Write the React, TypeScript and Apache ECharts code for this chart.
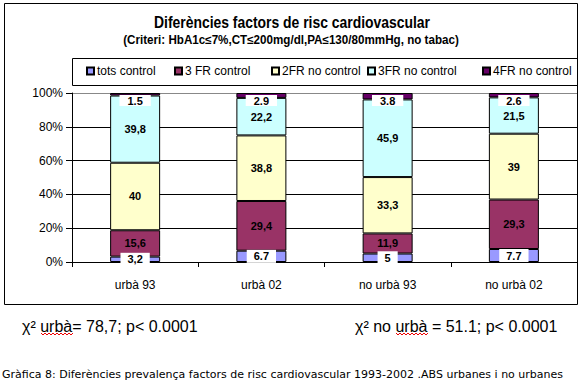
import React, { useEffect, useRef } from "react";
import * as echarts from "echarts";

const categories = ["urbà 93", "urbà 02", "no urbà 93", "no urbà 02"];
const seriesNames = ["tots control", "3 FR control", "2FR no control", "3FR no control", "4FR no control"];
const seriesColors = ["#9999FF", "#993366", "#FFFFCC", "#CCFFFF", "#660066"];

const totsControl = [3.2, 6.7, 5, 7.7];
const fr3Control = [15.6, 29.4, 11.9, 29.3];
const fr2NoControl = [40, 38.8, 33.3, 39];
const fr3NoControl = [39.8, 22.2, 45.9, 21.5];
const fr4NoControl = [1.5, 2.9, 3.8, 2.6];

const totsControlLabels = ["3,2", "6.7", "5", "7.7"];
const fr3ControlLabels = ["15,6", "29,4", "11,9", "29,3"];
const fr2NoControlLabels = ["40", "38,8", "33,3", "39"];
const fr3NoControlLabels = ["39,8", "22,2", "45,9", "21,5"];
const fr4NoControlLabels = ["1.5", "2.9", "3.8", "2.6"];

const yMin = 0;
const yMax = 100;
const yInterval = 20;

const titleText = "Diferències factors de risc cardiovascular";
const subtitleText = "(Criteri: HbA1c≤7%,CT≤200mg/dl,PA≤130/80mmHg, no tabac)";
const chiUrba = "χ² urbà= 78,7; p< 0.0001";
const chiNoUrba = "χ² no urbà = 51.1; p< 0.0001";
const captionText =
  "Gràfica 8: Diferències prevalença factors de risc cardiovascular 1993-2002 .ABS urbanes i no urbanes";

const allValues = [totsControl, fr3Control, fr2NoControl, fr3NoControl, fr4NoControl];
const allLabels = [totsControlLabels, fr3ControlLabels, fr2NoControlLabels, fr3NoControlLabels, fr4NoControlLabels];

const FONT = "Liberation Sans, Arial, sans-serif";

function squiggle(x0: number, x1: number, y: number) {
  const pts: number[][] = [];
  let up = true;
  for (let x = x0; x <= x1; x += 2) {
    pts.push([x, up ? y - 1 : y + 1]);
    up = !up;
  }
  return pts;
}

export default function App() {
  const ref = useRef<HTMLDivElement>(null);
  useEffect(() => {
    if (!ref.current) return;
    const chart = echarts.init(ref.current, undefined, { renderer: "svg" });
    const totals = categories.map((_, i) => allValues.reduce((s, arr) => s + arr[i], 0));
    const legendLefts = [86, 174, 271, 367, 482];

    const series = seriesNames.map((name, si) => {
      const isBottom = si === 0;
      const isTop = si === 4;
      const label: any = {
        show: true,
        formatter: (p: any) => allLabels[si][p.dataIndex],
        fontWeight: "bold",
        fontSize: 11,
        fontFamily: FONT,
        color: "#000",
        position: "inside",
      };
      if (isBottom) {
        label.backgroundColor = "#fff";
        label.padding = [1, 7, 1, 7];
      }
      if (isTop) {
        label.backgroundColor = "#fff";
        label.padding = [0, 8, 0, 8];
        label.position = "insideTop";
        label.distance = 2;
      }
      return {
        name,
        type: "bar",
        stack: "total",
        barWidth: 50,
        data: allValues[si].map((v, i) => (v / totals[i]) * 100),
        itemStyle: { color: seriesColors[si], borderColor: "#000", borderWidth: 1 },
        label,
        z: 2,
      };
    });

    chart.setOption({
      animation: false,
      backgroundColor: "#fff",
      legend: seriesNames.map((n, i) => ({
        data: [n],
        left: legendLefts[i],
        top: 65,
        padding: 0,
        itemWidth: 7,
        itemHeight: 7,
        itemGap: 4,
        icon: "rect",
        selectedMode: false,
        textStyle: { fontFamily: FONT, fontSize: 12, color: "#000", padding: [0, 0, 0, -2] },
      })),
      grid: { left: 72, right: 4, top: 93, bottom: 124 },
      xAxis: {
        type: "category",
        data: categories,
        axisLine: { lineStyle: { color: "#000", width: 1 } },
        axisTick: { show: true, length: 5, lineStyle: { color: "#000" } },
        axisLabel: { color: "#000", fontSize: 12, fontFamily: FONT, margin: 17 },
        z: 1,
      },
      yAxis: {
        type: "value",
        min: yMin,
        max: yMax,
        interval: yInterval,
        axisLine: { show: true, lineStyle: { color: "#000", width: 1 } },
        axisTick: { show: true, length: 6, lineStyle: { color: "#000" } },
        axisLabel: { color: "#000", fontSize: 12, fontFamily: FONT, margin: 9, formatter: "{value}%" },
        splitLine: {
          show: true,
          lineStyle: { color: ["#000", "#000", "#000", "#000", "#000", "#888"], width: 1 },
        },
      },
      series,
      graphic: [
        {
          type: "rect",
          shape: { x: 4.5, y: 3.5, width: 573, height: 301 },
          style: { fill: "none", stroke: "#000", lineWidth: 1 },
          z: 100,
        },
        {
          type: "rect",
          shape: { x: 72.5, y: 58.5, width: 505, height: 27 },
          style: { fill: "#fff", stroke: "#000", lineWidth: 1 },
          z: -1,
        },
        {
          type: "text",
          x: 292,
          y: 22,
          scaleX: 0.87,
          style: {
            text: titleText,
            fontFamily: FONT,
            fontWeight: "bold",
            fontSize: 16,
            fill: "#000",
            textAlign: "center",
            textVerticalAlign: "middle",
          },
        },
        {
          type: "text",
          x: 291,
          y: 40,
          scaleX: 0.97,
          style: {
            text: subtitleText,
            fontFamily: FONT,
            fontWeight: "bold",
            fontSize: 12,
            fill: "#000",
            textAlign: "center",
            textVerticalAlign: "middle",
          },
        },
        {
          type: "text",
          x: 22,
          y: 318,
          style: { text: chiUrba, fontFamily: FONT, fontSize: 16, fill: "#000" },
        },
        {
          type: "text",
          x: 355,
          y: 318,
          style: { text: chiNoUrba, fontFamily: FONT, fontSize: 16, fill: "#000" },
        },
        {
          type: "polyline",
          shape: { points: squiggle(41, 73, 334) },
          style: { stroke: "#e00", lineWidth: 1, fill: "none" },
        },
        {
          type: "polyline",
          shape: { points: squiggle(396, 428, 334) },
          style: { stroke: "#e00", lineWidth: 1, fill: "none" },
        },
        {
          type: "text",
          x: 2,
          y: 369,
          style: { text: captionText, fontFamily: "DejaVu Sans", fontSize: 11, fill: "#000" },
        },
      ],
    });
    return () => chart.dispose();
  }, []);
  return (
    <div
      ref={ref}
      style={{ position: "fixed", left: 0, top: 0, width: 581, height: 386, background: "#fff" }}
    />
  );
}
